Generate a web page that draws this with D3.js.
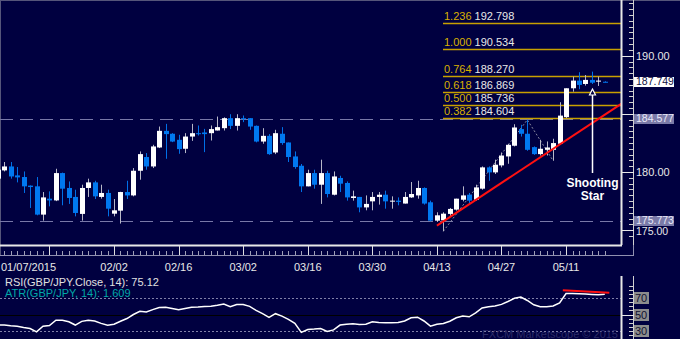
<!DOCTYPE html>
<html><head><meta charset="utf-8">
<script src="https://cdn.jsdelivr.net/npm/d3@7/dist/d3.min.js"></script>
<style>html,body{margin:0;padding:0;background:#000040;}svg{display:block;}</style>
</head><body><svg id="c" width="680" height="339"></svg>
<script>
// ---------- DATA ----------
const opens  = [179.43,180.14,180.48,179.71,179.57,178.83,178.77,176.34,177.71,177.56,179.91,178.63,177.86,176.40,178.63,179.11,177.86,178.20,176.42,176.68,178.28,177.99,180.11,181.29,180.48,182.11,183.54,183.29,182.77,182.00,183.05,183.34,183.40,183.34,183.57,183.77,184.63,183.97,184.63,184.63,183.97,182.62,183.11,181.68,183.29,182.54,181.34,180.54,178.77,179.91,178.91,179.91,178.05,179.49,179.06,177.77,177.86,176.96,177.48,177.86,178.05,177.48,177.54,177.29,177.82,177.99,178.63,177.40,175.82,175.85,176.40,176.77,177.62,178.05,177.62,178.57,180.40,179.97,180.57,181.34,182.26,183.69,183.29,182.14,181.54,181.91,181.91,182.43,184.72,187.20,187.86,187.57,187.92,187.77,187.76];
const highs  = [180.35,180.86,180.86,180.43,180.05,178.85,179.57,178.28,178.34,180.28,179.95,179.19,178.48,178.91,179.43,179.25,178.91,178.48,177.68,178.30,179.25,180.34,181.77,181.63,182.34,183.91,184.14,183.34,183.20,183.34,184.14,184.00,183.71,184.00,184.77,184.70,184.97,184.97,184.86,184.63,184.00,183.77,183.26,183.63,183.86,182.54,181.77,180.69,180.20,180.20,181.06,180.11,180.05,179.68,179.19,178.40,177.86,177.99,178.28,178.28,178.40,177.91,177.82,178.28,179.14,179.25,178.68,177.54,176.54,176.54,176.91,177.71,178.77,178.20,178.91,180.48,180.48,181.06,181.68,182.43,184.11,184.06,184.49,182.20,182.77,182.63,182.86,186.00,187.20,188.20,188.58,188.34,188.63,188.20,187.80];
const lows   = [179.30,180.05,179.43,179.11,178.20,176.91,176.28,175.82,177.05,177.50,177.14,177.26,176.19,175.82,177.86,177.68,177.71,176.19,176.19,175.57,177.68,177.91,179.34,180.20,180.34,182.06,181.14,182.57,181.57,181.63,182.68,183.14,181.71,182.71,183.57,183.57,183.69,183.57,184.29,183.63,182.55,182.43,181.48,181.54,182.34,180.86,180.28,178.28,178.77,178.57,177.26,177.82,177.99,178.28,177.54,177.54,176.54,176.71,176.71,177.20,176.85,176.85,177.14,177.29,177.77,177.71,177.20,175.76,175.71,174.91,176.19,176.68,177.48,177.26,177.54,178.48,179.25,179.83,180.40,180.71,182.20,183.05,181.83,181.48,181.42,181.42,180.97,182.34,184.63,186.91,187.12,187.43,187.57,187.40,187.72];
const closes = [180.20,180.48,179.62,179.54,178.77,178.71,176.34,177.82,177.56,179.91,178.57,177.77,176.48,178.63,179.11,177.91,178.20,176.85,176.71,178.28,177.99,180.11,181.54,180.48,182.20,183.54,183.26,182.62,181.97,183.05,183.34,183.26,183.26,183.69,183.86,184.63,183.97,184.63,184.54,183.91,182.62,183.11,181.54,183.34,182.49,181.29,180.43,178.77,179.91,178.91,179.91,178.11,179.62,179.00,177.82,177.91,176.96,177.26,177.86,178.05,177.48,177.54,177.43,177.86,178.11,178.63,177.29,175.82,176.28,176.42,176.83,177.71,177.99,177.54,178.68,180.40,179.97,180.63,181.42,182.34,183.83,183.29,181.91,181.54,182.00,182.11,182.49,184.85,187.20,187.86,187.49,187.92,187.68,187.86,187.749];
const rsi = [37,37,36,35.5,34,32.7,28.6,35.5,36.4,43,43,41,37,41.5,43,42,39,36.8,38,41.7,45,50,54,53,56,58.5,59,57.5,56,57.5,59,59.3,59.8,60.3,61.5,63,59.5,62.3,62.3,60,55,51,46.5,51,48,44,39,28,31.5,32,32.7,29,31,37,38,38.5,37.7,38,41,40,39.7,39.7,40,42,46,46.7,42,35.6,38,39,41.7,46,48,47.2,52,58,59.5,60.5,62.5,66,70,71.5,67.3,62,59.5,59.5,60.5,64.4,75.9,76,75.6,75.2,74.7,74.3,75.1];

const tickIdx    = [8,18,28,38,48,58,68,78,88];
const tickLabels = ["", "02/02","02/16","03/02","03/16","03/30","04/13","04/27","05/11"];
const firstLabel = "01/07/2015";

const priceTicks = [175,180,185,190];
const priceTickLabels = ["175.00","180.00","","190.00"];   // 185.00 is hidden under the 184.577 marker

const fibRatios = ["1.236","1.000","0.764","0.618","0.500","0.382"];
const fibValues = [192.798,190.534,188.270,186.869,185.736,184.604];

const srLevels = [184.577,175.773];
const lastPrice = 187.749;

// fib swing points A-B-C  (candle index, price)
const swingIdx = [69,82,86];
const swingPx  = [174.91,184.49,180.97];

// trend line anchors
const trendIdx = [68,86];
const trendPx  = [175.4,182.0];

// RSI trend line
const rsiTrendIdx = [87.5,94.7];
const rsiTrendVal = [80,76.8];
const rsiTicks = [30,50,70];

const rsiLabel = "RSI(GBP/JPY.Close, 14): 75.12";
const atrLabel = "ATR(GBP/JPY, 14): 1.609";
const annotation = ["Shooting","Star"];
const arrowIdx = 92;
const watermark = "FXCM Marketscope \u00a9 2015";

// ---------- DRAW ----------
const svg = d3.select("#c");
const W=680,H=339;
const BG="#000040", FONT="Liberation Sans, Arial, sans-serif";
const plotR=621, plotB=245;

const x = d3.scaleLinear().domain([0,94]).range([-2.2,604.8]);
const y = d3.scaleLinear().domain([175,190]).range([230.2,55.7]);
const yr = d3.scaleLinear().domain([30,70]).range([330.7,298.3]);

svg.append("rect").attr("width",W).attr("height",H).attr("fill",BG);

const defs = svg.append("defs");
defs.append("clipPath").attr("id","mainClip").append("rect").attr("x",0).attr("y",0).attr("width",plotR).attr("height",plotB);
defs.append("clipPath").attr("id","rsiClip").append("rect").attr("x",0).attr("y",274).attr("width",plotR).attr("height",65);

// borders
svg.append("line").attr("x1",0).attr("x2",W).attr("y1",0.5).attr("y2",0.5).attr("stroke","#55557a");
svg.append("line").attr("x1",0.5).attr("x2",0.5).attr("y1",0).attr("y2",256).attr("stroke","#55557a");

const main = svg.append("g").attr("clip-path","url(#mainClip)");

// dashed support/resistance
main.selectAll("line.sr").data(srLevels).join("line")
  .attr("x1",0).attr("x2",plotR).attr("y1",d=>Math.round(y(d))+0.5).attr("y2",d=>Math.round(y(d))+0.5)
  .attr("stroke","#7878a8").attr("stroke-dasharray","13,7");

// fib lines
const fibX0 = 443;
main.selectAll("line.fib").data(fibValues).join("line")
  .attr("x1",fibX0).attr("x2",plotR).attr("y1",d=>Math.round(y(d))+0.5).attr("y2",d=>Math.round(y(d))+0.5)
  .attr("stroke","#c8a000").attr("stroke-width",1.3);
const fibT = main.selectAll("text.fib").data(fibValues).join("text")
  .attr("x",fibX0+1).attr("y",d=>y(d)-3)
  .attr("font-family",FONT).attr("font-size",11);
fibT.append("tspan").attr("fill","#d8b000").text((d,i)=>fibRatios[i]);
fibT.append("tspan").attr("fill","#e8e8e8").text(d=>" "+d.toFixed(3));

// swing dotted lines
main.append("path")
  .attr("d",d3.line()(swingIdx.map((d,i)=>[x(d),y(swingPx[i])])))
  .attr("fill","none").attr("stroke","#8a8aa0").attr("stroke-dasharray","2,2");

// candles
const idx = d3.range(opens.length);
const cg = main.selectAll("g.c").data(idx).join("g");
cg.append("line")
  .attr("x1",i=>Math.round(x(i))+0.5).attr("x2",i=>Math.round(x(i))+0.5)
  .attr("y1",i=>y(highs[i])).attr("y2",i=>y(lows[i]))
  .attr("stroke",i=>closes[i]>=opens[i]?"#b8b8c8":"#0070e8");
cg.append("rect")
  .attr("x",i=>Math.round(x(i))-2).attr("width",5)
  .attr("y",i=>y(Math.max(opens[i],closes[i])))
  .attr("height",i=>Math.max(1,y(Math.min(opens[i],closes[i]))-y(Math.max(opens[i],closes[i]))))
  .attr("fill",i=>closes[i]>=opens[i]?"#ffffff":"#0078f0");

// trend line (extended to right edge)
const slope=(trendPx[1]-trendPx[0])/(trendIdx[1]-trendIdx[0]);
const iEnd=x.invert(plotR+5);
main.append("line")
  .attr("x1",x(trendIdx[0])).attr("y1",y(trendPx[0]))
  .attr("x2",x(iEnd)).attr("y2",y(trendPx[0]+slope*(iEnd-trendIdx[0])))
  .attr("stroke","#ff1010").attr("stroke-width",2);

// arrow + annotation
const ax=Math.round(x(arrowIdx))+0.5;
main.append("line").attr("x1",ax).attr("x2",ax).attr("y1",95).attr("y2",173).attr("stroke","#ffffff").attr("stroke-width",1.5);
main.append("path").attr("d",`M${ax},89 L${ax-3},95 L${ax+3},95 Z`).attr("fill",BG).attr("stroke","#ffffff").attr("stroke-width",1.2);
main.selectAll("text.ann").data(annotation).join("text")
  .attr("x",ax).attr("y",(d,i)=>187+i*13).attr("text-anchor","middle")
  .attr("font-family",FONT).attr("font-weight","bold").attr("font-size",12).attr("fill","#ffffff").text(d=>d);

// right price axis
svg.append("line").attr("x1",plotR+0.5).attr("x2",plotR+0.5).attr("y1",0).attr("y2",plotB).attr("stroke","#e8e8e8").attr("stroke-width",2);
const minor = d3.range(174.5,195,0.5);
svg.selectAll("line.mt").data(minor).join("line")
  .attr("x1",629).attr("x2",633).attr("y1",d=>Math.round(y(d))+0.5).attr("y2",d=>Math.round(y(d))+0.5)
  .attr("stroke","#d0d0d0").filter(d=>y(d)>plotB||y(d)<0).remove();
svg.append("line").attr("x1",633.5).attr("x2",633.5).attr("y1",0).attr("y2",plotB).attr("stroke","#d0d0d0");
svg.selectAll("line.Mt").data(priceTicks).join("line")
  .attr("x1",plotR).attr("x2",634).attr("y1",d=>Math.round(y(d))+0.5).attr("y2",d=>Math.round(y(d))+0.5).attr("stroke","#e8e8e8");
svg.selectAll("text.pt").data(priceTicks.filter((d,i)=>priceTickLabels[i])).join("text")
  .attr("x",636).attr("y",d=>y(d)+(d===175?5:4)).attr("font-family",FONT).attr("font-size",d=>d===175?10.5:11).attr("fill","#e8e8e8")
  .text(d=>priceTickLabels[priceTicks.indexOf(d)]);

// boxed labels
function boxLabel(v,bg,fg){
  const g=svg.append("g");
  const yy=Math.round(y(v));
  g.append("rect").attr("x",634).attr("y",yy-5).attr("width",40).attr("height",10).attr("fill",bg);
  g.append("text").attr("x",636).attr("y",yy+3).attr("font-family",FONT).attr("font-size",10.5).attr("fill",fg).text(v.toFixed(3));
}
srLevels.forEach(v=>boxLabel(v,"#7a7aa8","#e8e8f8"));
boxLabel(lastPrice,"#ffffff","#101040");

// x axis band
svg.append("line").attr("x1",0).attr("x2",plotR+1).attr("y1",245.5).attr("y2",245.5).attr("stroke","#e8e8e8").attr("stroke-width",2);
svg.append("line").attr("x1",0).attr("x2",634).attr("y1",255.5).attr("y2",255.5).attr("stroke","#9090b0");
svg.append("line").attr("x1",633.5).attr("x2",633.5).attr("y1",245).attr("y2",256).attr("stroke","#9090b0");
svg.selectAll("line.xm").data(idx).join("line")
  .attr("x1",i=>Math.round(x(i))+0.5).attr("x2",i=>Math.round(x(i))+0.5).attr("y1",251).attr("y2",255).attr("stroke","#a0a0b8");
svg.selectAll("line.xM").data(tickIdx).join("line")
  .attr("x1",i=>Math.round(x(i))+0.5).attr("x2",i=>Math.round(x(i))+0.5).attr("y1",246).attr("y2",255).attr("stroke","#e0e0e0");
svg.selectAll("text.xl").data(tickIdx.filter((d,i)=>tickLabels[i])).join("text")
  .attr("x",i=>x(i)).attr("y",271).attr("text-anchor","middle").attr("font-family",FONT).attr("font-size",11).attr("fill","#e8e8e8")
  .text(i=>tickLabels[tickIdx.indexOf(i)]);
svg.append("text").attr("x",1).attr("y",271).attr("font-family",FONT).attr("font-size",11).attr("fill","#e8e8e8").text(firstLabel);

// RSI panel
const rp = svg.append("g");
rp.selectAll("line.rl").data(rsiTicks).join("line")
  .attr("x1",0).attr("x2",plotR).attr("y1",d=>Math.round(yr(d))+0.5).attr("y2",d=>Math.round(yr(d))+0.5)
  .attr("stroke",d=>d===50?"#000000":"#8080a8").attr("stroke-dasharray",d=>d===50?null:"2,2");
rp.append("text").attr("x",5).attr("y",286).attr("font-family",FONT).attr("font-size",11).attr("fill","#e0e0e0").text(rsiLabel);
rp.append("text").attr("x",5).attr("y",297).attr("font-family",FONT).attr("font-size",11).attr("fill","#00a8a8").text(atrLabel);
rp.append("text").attr("x",618).attr("y",338).attr("text-anchor","end").attr("font-family",FONT).attr("font-size",11).attr("fill","#2a2a68").text(watermark);
rp.append("path").attr("clip-path","url(#rsiClip)")
  .attr("d",d3.line().x((d,i)=>x(i)).y(d=>yr(d))(rsi))
  .attr("fill","none").attr("stroke","#ffffff").attr("stroke-width",1.5);
rp.append("line")
  .attr("x1",x(rsiTrendIdx[0])).attr("y1",yr(rsiTrendVal[0])).attr("x2",x(rsiTrendIdx[1])).attr("y2",yr(rsiTrendVal[1]))
  .attr("stroke","#ff1010").attr("stroke-width",2);
rp.append("line").attr("x1",plotR+0.5).attr("x2",plotR+0.5).attr("y1",276).attr("y2",H).attr("stroke","#e8e8e8").attr("stroke-width",2);
rp.selectAll("line.rmt").data(d3.range(20,86,5)).join("line")
  .attr("x1",629).attr("x2",633).attr("y1",d=>Math.round(yr(d))+0.5).attr("y2",d=>Math.round(yr(d))+0.5).attr("stroke","#d0d0d0")
  .filter(d=>yr(d)<276).remove();
rp.append("line").attr("x1",633.5).attr("x2",633.5).attr("y1",276).attr("y2",H).attr("stroke","#d0d0d0");
rp.append("line").attr("x1",plotR).attr("x2",634).attr("y1",Math.round(yr(50))+0.5).attr("y2",Math.round(yr(50))+0.5).attr("stroke","#e8e8e8");
rsiTicks.forEach(v=>{
  const yy=Math.round(yr(v));
  rp.append("rect").attr("x",634).attr("y",yy-6).attr("width",15).attr("height",12).attr("fill","#8c8c8c");
  rp.append("text").attr("x",635).attr("y",yy+4).attr("font-family",FONT).attr("font-size",11).attr("fill","#101030").text(v);
});
</script></body></html>
